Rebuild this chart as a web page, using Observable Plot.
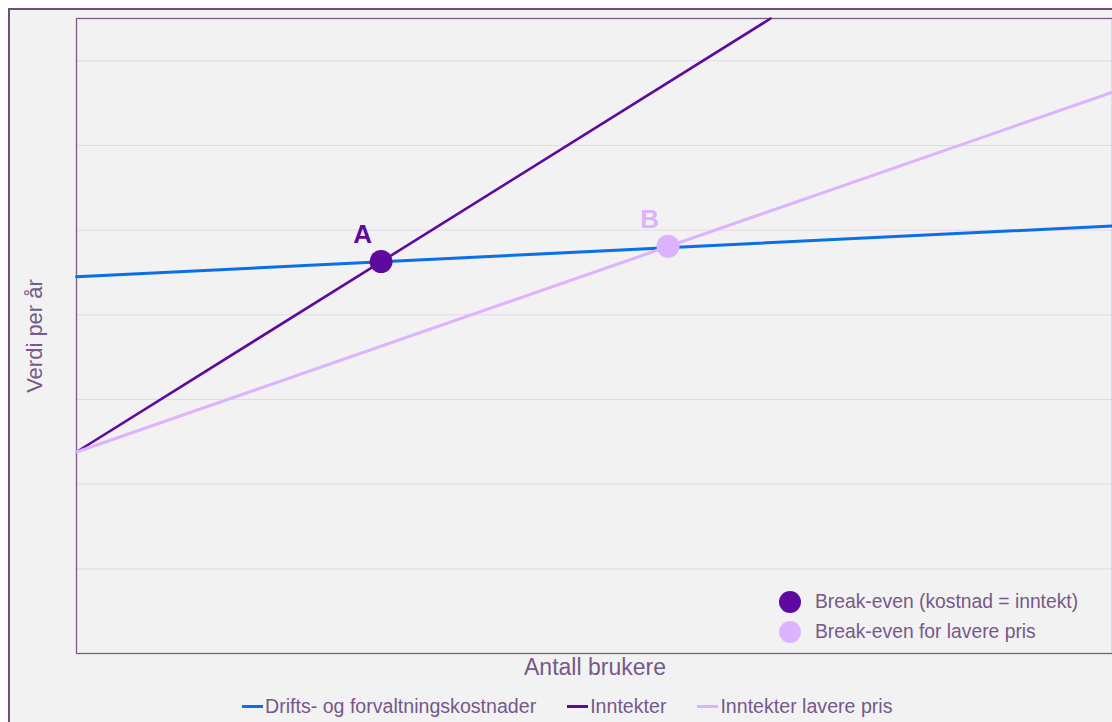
<!DOCTYPE html>
<html>
<head>
<meta charset="utf-8">
<script src="https://cdn.jsdelivr.net/npm/d3@7"></script>
<script src="https://cdn.jsdelivr.net/npm/@observablehq/plot@0.6"></script>
<style>
  html, body { margin: 0; padding: 0; overflow: hidden; background: #ffffff; width: 1112px; height: 722px; }
  body { position: relative; font-family: "Liberation Sans", Arial, sans-serif; color: #76588a; }
  #wrap { position: absolute; left: 8px; top: 8px; width: 1300px; height: 900px;
          border-left: 2px solid #6e4c7e; border-top: 2px solid #6e4c7e; background: #f2f2f2; }
  #chart { position: absolute; left: 0; top: 0; width: 1200px; height: 700px; }
  #chart svg { max-width: none !important; width: 1200px !important; height: 700px !important; }
  #ylabel { position: absolute; left: 35px; top: 336px; transform: translate(-50%, -50%) rotate(-90deg);
            font-size: 22px; line-height: 22px; white-space: nowrap; }
  #xlabel { position: absolute; left: 0; width: 1190px; top: 656px; text-align: center;
            font-size: 23px; line-height: 23px; white-space: nowrap; }
  #inlegend { position: absolute; left: 779px; top: 587px; font-size: 19.3px; }
  #inlegend .row { display: flex; align-items: center; height: 30px; white-space: nowrap; }
  #inlegend .dot { width: 22px; height: 22px; border-radius: 50%; margin-right: 14px; flex: none; }
  #botlegend { position: absolute; left: 242px; top: 696px; height: 20px; display: flex; align-items: center;
               font-size: 19.6px; line-height: 20px; white-space: nowrap; }
  #botlegend .item { display: flex; align-items: center; margin-right: 31px; }
  #botlegend .sw { width: 21px; height: 3px; margin-right: 2px; flex: none; }
</style>
</head>
<body>
<div id="wrap"></div>
<div id="chart"></div>
<div id="ylabel">Verdi per år</div>
<div id="xlabel">Antall brukere</div>
<div id="inlegend"></div>
<div id="botlegend"></div>
<script>
// ---- data ----
const seriesNames = ["Drifts- og forvaltningskostnader", "Inntekter", "Inntekter lavere pris"];
const seriesColors = ["#0b6fe8", "#5e0a9e", "#ddb2ff"];
const costUsers = [0, 1000];
const costValues = [445, 505];
const revenueUsers = [0, 670];
const revenueValues = [238, 750];
const revenueLowUsers = [0, 1000];
const revenueLowValues = [238, 663];

const breakEvenNames = ["Break-even (kostnad = inntekt)", "Break-even for lavere pris"];
const breakEvenLabels = ["A", "B"];
const breakEvenUsers = [294, 571];
const breakEvenValues = [463, 481];
const breakEvenColors = ["#5e0a9e", "#ddb2ff"];

const yGridTicks = [100, 200, 300, 400, 500, 600, 700];

// ---- build tables ----
const toRows = (xs, ys) => xs.map((x, i) => ({users: x, value: ys[i]}));
const lines = [
  toRows(costUsers, costValues),
  toRows(revenueUsers, revenueValues),
  toRows(revenueLowUsers, revenueLowValues)
];
const points = breakEvenLabels.map((l, i) => ({label: l, users: breakEvenUsers[i], value: breakEvenValues[i], color: breakEvenColors[i]}));

const chart = Plot.plot({
  width: 1200,
  height: 700,
  marginLeft: 76,
  marginRight: 88,
  marginTop: 18,
  marginBottom: 47,
  style: {background: "transparent", overflow: "visible", maxWidth: "none", fontFamily: "'Liberation Sans', Arial, sans-serif"},
  x: {domain: [0, 1000], axis: null},
  y: {domain: [0, 750], axis: null},
  marks: [
    Plot.gridY(yGridTicks, {stroke: "#e4d7ec", strokeOpacity: 1, strokeWidth: 1}),
    Plot.frame({stroke: "#7a5c8b", strokeWidth: 1.3}),
    ...lines.map((rows, i) => Plot.line(rows, {x: "users", y: "value", stroke: seriesColors[i], strokeWidth: i === 1 ? 2.6 : 3})),
    Plot.dot(points, {x: "users", y: "value", r: 11.5, fill: "color", stroke: "none"}),
    Plot.text(points, {x: "users", y: "value", text: "label", fill: "color", fontSize: 26, fontWeight: "bold", dx: -18.5, dy: -27})
  ]
});
document.getElementById("chart").appendChild(chart);

// in-chart legend
const inl = document.getElementById("inlegend");
breakEvenNames.forEach((n, i) => {
  const row = document.createElement("div");
  row.className = "row";
  row.innerHTML = `<span class="dot" style="background:${breakEvenColors[i]}"></span><span>${n}</span>`;
  inl.appendChild(row);
});

// bottom legend
const bl = document.getElementById("botlegend");
seriesNames.forEach((n, i) => {
  const it = document.createElement("div");
  it.className = "item";
  it.innerHTML = `<span class="sw" style="background:${seriesColors[i]}"></span><span>${n}</span>`;
  bl.appendChild(it);
});
</script>
</body>
</html>
